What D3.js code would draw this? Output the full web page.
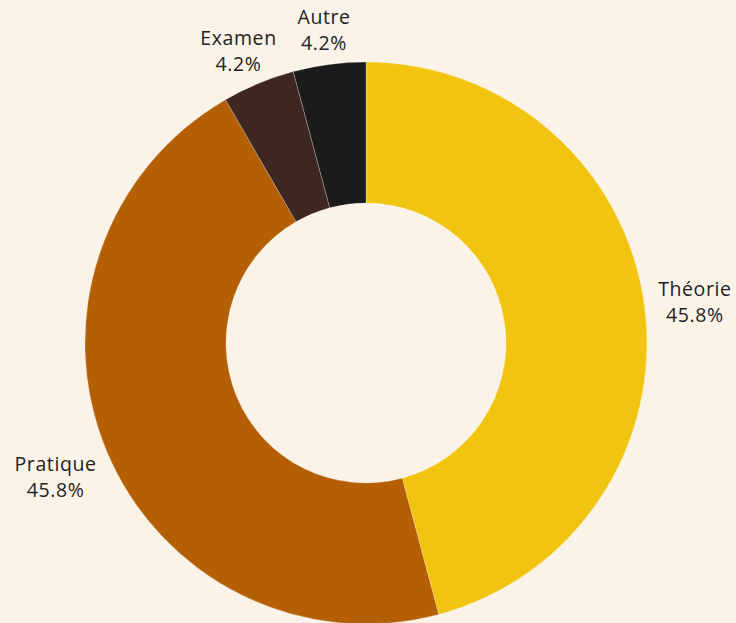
<!DOCTYPE html>
<html>
<head>
<meta charset="utf-8">
<script src="https://cdn.jsdelivr.net/npm/d3@7"></script>
<style>
  html, body { margin: 0; padding: 0; background: #fcf3e8; }
  svg { display: block; }
</style>
</head>
<body>
<svg id="chart"></svg>
<script>
// Chart data
const labels = ["Théorie", "Pratique", "Examen", "Autre"];
const values = [11, 11, 1, 1];
const colors = ["#f1c40f", "#b45f04", "#3e2621", "#1b1b1b"];

const width = 736, height = 623;
const cx = 366, cy = 343;
const outerR = 281, innerR = 140;

const svg = d3.select("#chart")
    .attr("width", width)
    .attr("height", height);

const g = svg.append("g").attr("transform", `translate(${cx},${cy})`);

const pie = d3.pie().sort(null).value(d => d.value);
const arc = d3.arc().innerRadius(innerR).outerRadius(outerR);

const data = labels.map((l, i) => ({ label: l, value: values[i], color: colors[i] }));
const arcs = pie(data);
const total = d3.sum(values);

g.selectAll("path")
    .data(arcs)
    .join("path")
    .attr("d", arc)
    .attr("fill", d => d.data.color)
    .attr("stroke", "rgba(255,255,255,0.35)")
    .attr("stroke-width", 0.7);

// Outside labels
const labelR = outerR + 14;
const lineH = 26;
const fmt = d3.format(".1f");

arcs.forEach(d => {
    const mid = (d.startAngle + d.endAngle) / 2;
    const s = Math.sin(mid), c = Math.cos(mid);
    const px = s * labelR, py = -c * labelR;

    const t = g.append("text")
        .attr("text-anchor", "middle")
        .attr("font-family", "'Open Sans', 'Noto Sans', sans-serif")
        .attr("font-size", 19.5)
        .attr("letter-spacing", 0.6)
        .attr("fill", "#222");
    t.append("tspan").attr("x", 0).attr("dy", 0).text(d.data.label);
    t.append("tspan").attr("x", 0).attr("dy", lineH)
        .text(fmt(d.data.value / total * 100) + "%");

    const bb = t.node().getBBox();
    const w = bb.width, h = bb.height;
    // centre of the text box, pushed outward from the anchor point
    const bx = px + s * w / 2;
    const by = c < 0 ? py + h * 0.38 : py - c * h * 0.4;
    t.attr("transform", `translate(${bx - (bb.x + w / 2)},${by - (bb.y + h / 2)})`);
});
</script>
</body>
</html>
